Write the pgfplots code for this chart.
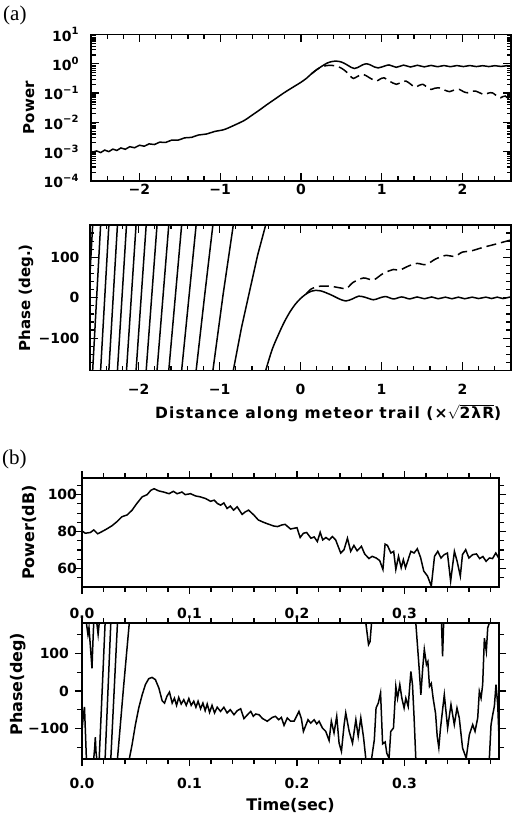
\documentclass[border=0pt]{standalone}
\usepackage{fontspec}
\setmainfont{DejaVu Sans}
\newfontfamily\serif{Liberation Serif}
\usepackage{pgfplots}
\pgfplotsset{compat=1.18}

\newcommand\expo[1]{10\raisebox{0.8ex}{\fontsize{10bp}{10bp}\selectfont #1}}

\pgfplotsset{
  panel/.style={
    scale only axis, unbounded coords=jump,
    axis line style={line width=1.5bp},
    every tick/.style={black, line width=1.2bp},
    tick label style={font=\fontsize{14bp}{16bp}\selectfont\bfseries},
    label style={font=\fontsize{15bp}{18bp}\selectfont\bfseries},
  },
  curve/.style={black, line width=1.5bp, mark=none},
  dashcurve/.style={curve, dash pattern=on 10bp off 5bp},
  pa/.style={panel, tick align=inside, major tick length=8bp, minor tick length=4.5bp,
    xmin=-2.6, xmax=2.6, xtick={-2,-1,0,1,2}, xticklabels={−2,−1,0,1,2},
    minor xtick={-2.4,-2.2,-1.8,-1.6,-1.4,-1.2,-0.8,-0.6,-0.4,-0.2,0.2,0.4,0.6,0.8,1.2,1.4,1.6,1.8,2.2,2.4}},
  pb/.style={panel, tick align=outside, major tick length=7bp, minor tick length=5bp,
    xmin=0, xmax=0.388, xtick={0,0.1,0.2,0.3}, xticklabels={0.0,0.1,0.2,0.3},
    minor xtick={0.02,0.04,0.06,0.08,0.12,0.14,0.16,0.18,0.22,0.24,0.26,0.28,0.32,0.34,0.36,0.38},
    label style={font=\fontsize{16bp}{18bp}\selectfont\bfseries}},
}

\begin{document}
\begin{tikzpicture}
\path[use as bounding box] (0,0) rectangle (526bp,817bp);

\node[anchor=west, inner sep=0, font=\serif\fontsize{21bp}{23bp}\selectfont] at (3bp,802bp) {(a)};
\node[anchor=west, inner sep=0, font=\serif\fontsize{21bp}{23bp}\selectfont] at (2bp,358bp) {(b)};

% (a) power, log10 scale
\begin{axis}[pa, at={(91bp,636bp)}, anchor=south west, width=420bp, height=146.5bp,
  ymin=-4, ymax=1, ytick={-4,-3,-2,-1,0,1},
  yticklabels={\expo{−4},\expo{−3},\expo{−2},\expo{−1},\expo{0},\expo{1}},
  minor ytick={-3.699,-3.523,-3.398,-3.301,-3.222,-3.155,-3.097,-3.046,
    -2.699,-2.523,-2.398,-2.301,-2.222,-2.155,-2.097,-2.046,
    -1.699,-1.523,-1.398,-1.301,-1.222,-1.155,-1.097,-1.046,
    -0.699,-0.523,-0.398,-0.301,-0.222,-0.155,-0.097,-0.046,
    0.301,0.477,0.602,0.699,0.778,0.845,0.903,0.954},
  yticklabel style={xshift=-9bp},
  ylabel={Power}, ylabel style={at={(axis description cs:-0.148,0.5)}, anchor=center}]
\addplot[curve, smooth] coordinates {
(-2.6,-3.05) (-2.53,-2.975) (-2.48,-3.03) (-2.43,-2.945) (-2.38,-2.998) (-2.33,-2.912)
(-2.28,-2.958) (-2.23,-2.873) (-2.175,-2.917) (-2.12,-2.83) (-2.06,-2.865) (-2.0,-2.78)
(-1.94,-2.813) (-1.88,-2.733) (-1.815,-2.756) (-1.75,-2.675) (-1.675,-2.684) (-1.6,-2.603)
(-1.52,-2.605) (-1.44,-2.527) (-1.355,-2.511) (-1.27,-2.431) (-1.17,-2.397) (-1.07,-2.31)
(-0.955,-2.248) (-0.84,-2.115) (-0.7,-1.93) (-0.62,-1.78) (-0.52,-1.59) (-0.42,-1.39)
(-0.32,-1.2) (-0.21,-0.99) (-0.1,-0.8) (0,-0.63) (0.07,-0.49) (0.13,-0.34) (0.2,-0.19)
(0.26,-0.08) (0.32,0.02) (0.38,0.075) (0.44,0.09) (0.5,0.06) (0.56,-0.02) (0.62,-0.12)
(0.66,-0.16) (0.7,-0.13) (0.76,-0.04) (0.81,0.0) (0.86,-0.04) (0.91,-0.11) (0.955,-0.14)
(1.0,-0.11) (1.09,-0.04) (1.18,-0.12) (1.27,-0.045) (1.355,-0.11) (1.44,-0.05) (1.525,-0.105)
(1.61,-0.055) (1.69,-0.1) (1.77,-0.06) (1.85,-0.1) (1.93,-0.06) (2.01,-0.095) (2.09,-0.06)
(2.17,-0.095) (2.25,-0.065) (2.325,-0.095) (2.4,-0.065) (2.475,-0.09) (2.55,-0.065) (2.6,-0.08)};
\addplot[dashcurve, smooth] coordinates {
(0.13,-0.34) (0.2,-0.19) (0.26,-0.1) (0.32,-0.06) (0.38,-0.055) (0.44,-0.08) (0.5,-0.15)
(0.56,-0.27) (0.61,-0.42) (0.65,-0.5) (0.7,-0.43) (0.77,-0.36) (0.85,-0.48) (0.93,-0.59)
(0.98,-0.52) (1.03,-0.48) (1.1,-0.6) (1.18,-0.7) (1.24,-0.63) (1.3,-0.59) (1.36,-0.7)
(1.41,-0.8) (1.46,-0.74) (1.51,-0.7) (1.56,-0.8) (1.61,-0.875) (1.66,-0.83) (1.71,-0.82)
(1.78,-0.9) (1.84,-0.95) (1.9,-0.89) (1.96,-0.875) (2.01,-0.95) (2.06,-0.99) (2.11,-0.94)
(2.16,-0.93) (2.22,-1.0) (2.27,-1.05) (2.32,-1.0) (2.37,-0.99) (2.42,-1.09) (2.47,-1.16)
(2.5,-1.12) (2.53,-1.1) (2.57,-1.2) (2.6,-1.25)};
\end{axis}

% (a) phase
\begin{axis}[pa, at={(90bp,446.5bp)}, anchor=south west, width=421bp, height=145.5bp,
  ymin=-180, ymax=180, ytick={-100,0,100}, yticklabels={−100,0,100},
  minor ytick={-160,-140,-120,-80,-60,-40,-20,20,40,60,80,120,140,160},
  yticklabel style={xshift=-7bp}, xticklabel style={yshift=-10bp},
  ylabel={Phase (deg.)}, ylabel style={at={(axis description cs:-0.152,0.5)}, anchor=center},
  xlabel={Distance along meteor trail (×$\sqrt{\hbox{2λR}}$)},
  xlabel style={at={(axis description cs:0.566,-0.292)}, anchor=center, inner sep=0.5bp,
    font=\fontsize{15.5bp}{18bp}\selectfont\bfseries\addfontfeatures{LetterSpace=7}}]
\addplot[curve] coordinates {
(-2.6,60) (-2.567,180) (-2.567,nan)
(-2.567,-180) (-2.469,180) (-2.469,nan)
(-2.469,-180) (-2.367,180) (-2.367,nan)
(-2.367,-180) (-2.261,180) (-2.261,nan)
(-2.261,-180) (-2.149,180) (-2.149,nan)
(-2.149,-180) (-2.031,180) (-2.031,nan)
(-2.031,-180) (-1.906,180) (-1.906,nan)
(-1.906,-180) (-1.772,180) (-1.772,nan)
(-1.772,-180) (-1.627,180) (-1.627,nan)
(-1.627,-180) (-1.468,180) (-1.468,nan)
(-1.468,-180) (-1.289,180) (-1.289,nan)
(-1.289,-180) (-1.19,-5) (-1.082,180) (-1.082,nan)
(-1.082,-180) (-0.956,8) (-0.83,180) (-0.83,nan)
(-0.83,-180) (-0.73,-75) (-0.63,15) (-0.53,105) (-0.43,180)};
\addplot[curve, smooth] coordinates {
(-0.43,-180) (-0.35,-128) (-0.27,-90) (-0.2,-60) (-0.13,-35) (-0.06,-15) (0,-2)
(0.06,8) (0.12,15) (0.18,18) (0.25,17) (0.32,12) (0.4,5) (0.48,-3) (0.56,-8) (0.64,-3)
(0.72,4) (0.8,1) (0.9,-5) (0.97,-1) (1.05,3) (1.15,-3) (1.25,2) (1.35,-3) (1.44,2)
(1.53,-2.5) (1.62,2) (1.7,-2.5) (1.79,1.5) (1.87,-2.5) (1.95,1.5) (2.03,-2.5) (2.12,1.5)
(2.2,-2) (2.29,1.5) (2.36,-2) (2.43,1.5) (2.5,-2) (2.58,1.5) (2.6,1)};
\addplot[dashcurve, smooth] coordinates {
(0.07,10) (0.135,22) (0.22,28) (0.34,29) (0.42,27) (0.5,24) (0.57,23) (0.65,38) (0.78,49)
(0.9,44) (1.02,60) (1.15,70) (1.22,68) (1.34,79) (1.44,85) (1.55,82) (1.67,96) (1.8,105)
(1.9,102) (2.0,113) (2.09,115) (2.18,120) (2.26,125) (2.36,130) (2.49,137) (2.6,143)};
\end{axis}

% (b) power
\begin{axis}[pb, at={(82bp,230bp)}, anchor=south west, width=417bp, height=109bp,
  ymin=50, ymax=109, ytick={60,80,100}, yticklabels={60,80,100},
  minor ytick={55,65,70,75,85,90,95,105},
  yticklabel style={xshift=5.5bp}, xticklabel style={yshift=-11bp},
  ylabel={Power(dB)}, ylabel style={at={(axis description cs:-0.126,0.5)}, anchor=center}]
\addplot[curve] coordinates {
(0.000,80.4) (0.003,79.1) (0.0078,79.5) (0.011,80.9) (0.0146,78.8) (0.0186,80.0) (0.023,81.4)
(0.028,83.2) (0.0326,85.4) (0.037,88.0) (0.042,89.0) (0.0466,91.6) (0.051,95.2) (0.056,98.8)
(0.0606,100.0) (0.064,102.3) (0.067,103.2) (0.0715,102.0) (0.076,101.4) (0.081,100.5)
(0.085,101.8) (0.0885,100.5) (0.093,101.4) (0.096,100.0) (0.101,100.5) (0.1056,99.3)
(0.110,98.8) (0.1149,97.9) (0.1196,96.4) (0.123,97.0) (0.126,95.2) (0.129,94.3) (0.132,95.5)
(0.135,92.5) (0.138,93.8) (0.141,91.6) (0.1444,93.4) (0.149,89.3) (0.152,90.7) (0.155,91.6)
(0.160,88.9) (0.164,86.3) (0.169,85.0) (0.174,83.9) (0.1786,83.0) (0.182,82.7) (0.186,83.6)
(0.189,83.9) (0.194,81.4) (0.2,82.1) (0.203,76.8) (0.206,79.1) (0.209,79.5) (0.213,76.4)
(0.216,77.1) (0.219,74.6) (0.2216,79.6) (0.224,75.5) (0.227,76.8) (0.230,75.5) (0.233,77.3)
(0.236,75.5) (0.2407,68.4) (0.2438,70.2) (0.247,76.4) (0.250,69.3) (0.253,72.5) (0.256,69.6)
(0.260,72.0) (0.263,67.9) (0.267,65.4) (0.270,66.6) (0.2737,65.7) (0.277,64.3) (0.280,59.5)
(0.282,73.2) (0.2842,72.5) (0.2874,68.4) (0.290,69.3) (0.292,59.5) (0.2945,66.6) (0.297,60.4)
(0.299,64.8) (0.301,60.4) (0.306,69.3) (0.309,68.4) (0.312,70.7) (0.315,66.0) (0.318,58.6)
(0.3215,55.9) (0.325,50.5) (0.328,66.6) (0.331,69.3) (0.334,65.7) (0.337,67.5) (0.340,68.4)
(0.343,53.2) (0.3465,69.3) (0.349,64.0) (0.352,55.9) (0.354,67.5) (0.357,70.2) (0.360,65.7)
(0.3635,67.5) (0.367,67.9) (0.370,65.4) (0.373,66.5) (0.376,63.9) (0.379,65.7) (0.382,65.4)
(0.385,68.4) (0.388,65.4)};
\end{axis}

% (b) phase
\begin{axis}[pb, at={(82bp,58bp)}, anchor=south west, width=417bp, height=136bp,
  ymin=-180, ymax=180, ytick={-100,0,100}, yticklabels={−100,0,100},
  minor ytick={-150,-50,50,150},
  yticklabel style={xshift=-2.5bp}, xticklabel style={yshift=-9bp},
  ylabel={Phase(deg)}, ylabel style={at={(axis description cs:-0.1535,0.55)}, anchor=center},
  xlabel={Time(sec)}, xlabel style={at={(axis description cs:0.5,-0.345)}, anchor=center}]
\addplot[curve] coordinates {
(0,-105) (0.001,-72) (0.0023,-42) (0.0032,-110) (0.0041,-180) (0.0041,nan)
(0.0041,180) (0.0055,150) (0.0065,168) (0.0078,118) (0.0093,60) (0.0101,125) (0.0109,180) (0.0109,nan)
(0.0109,-180) (0.0118,-150) (0.0124,-122) (0.013,-160) (0.0138,-180) (0.0138,nan)
(0.0138,180) (0.0150,150) (0.016,180) (0.016,nan)
(0.016,-180) (0.0215,180) (0.0215,nan)
(0.0215,-180) (0.0268,180) (0.0268,nan)
(0.0268,-180) (0.033,180) (0.033,nan)
(0.033,-180) (0.0385,5) (0.044,180) (0.044,nan)
(0.044,-180) (0.0466,-142) (0.0497,-89) (0.0528,-45) (0.056,-10) (0.059,17) (0.0621,32.6)
(0.0652,36) (0.0683,30) (0.0715,8) (0.0746,-26) (0.0768,-32) (0.079,-14) (0.0814,-3)
(0.0839,-32) (0.086,-19) (0.088,-38) (0.09,-17) (0.0923,-34.5) (0.0947,-23) (0.097,-38)
(0.0994,-20) (0.1016,-38) (0.104,-27) (0.106,-43) (0.108,-27) (0.1103,-47) (0.1125,-32)
(0.1146,-52) (0.1165,-34.5) (0.1187,-56.5) (0.121,-38) (0.1233,-58) (0.1258,-43) (0.1289,-54)
(0.132,-43) (0.135,-58) (0.138,-49.5) (0.1414,-62.7) (0.1445,-52) (0.1476,-47) (0.1507,-73)
(0.154,-62.7) (0.157,-54) (0.1594,-67) (0.1616,-61) (0.1647,-62.7) (0.168,-73) (0.1724,-80)
(0.177,-70) (0.18,-67) (0.183,-76) (0.1855,-70) (0.188,-91) (0.191,-71.5) (0.1941,-80)
(0.1973,-80) (0.2019,-54) (0.2041,-73) (0.206,-107) (0.2082,-91) (0.2103,-76) (0.2128,-85)
(0.216,-76) (0.2184,-87) (0.2206,-80) (0.2237,-98) (0.2268,-107) (0.2299,-131) (0.232,-80)
(0.2345,-111) (0.237,-67) (0.2392,-138) (0.2414,-160) (0.2439,-89) (0.2454,-58) (0.2486,-107)
(0.2517,-138) (0.2548,-76) (0.257,-120) (0.2594,-71) (0.262,-124) (0.2641,-180) (0.2641,nan)
(0.2641,180) (0.2666,123) (0.268,131) (0.2694,180) (0.2694,nan)
(0.2694,-180) (0.272,-129) (0.2736,-45) (0.2757,-32) (0.2778,-5) (0.2797,-140) (0.2821,-135)
(0.2836,-165) (0.2857,-178) (0.2873,-107) (0.2898,-98) (0.292,12) (0.2936,-19) (0.2957,17)
(0.2976,-19) (0.2997,-45) (0.3013,-19) (0.3035,-41) (0.306,52) (0.3075,17) (0.309,-71)
(0.3106,-180) (0.3106,nan)
(0.3106,180) (0.3137,60) (0.3153,-10) (0.317,60) (0.3185,110) (0.3205,70) (0.3218,78)
(0.3233,12) (0.325,20) (0.3267,-19) (0.329,-60) (0.3305,-120) (0.332,-150) (0.3335,-100)
(0.3371,-10) (0.3402,-98) (0.3433,-36) (0.3464,-89) (0.3489,-45) (0.351,-71) (0.3541,-151)
(0.3575,-178) (0.3604,-116) (0.3635,-89) (0.3657,-107) (0.3682,-71) (0.3697,-1) (0.3713,-19)
(0.3728,17) (0.3744,140) (0.3762,105) (0.3775,167) (0.379,180) (0.379,nan)
(0.379,-180) (0.3806,-89) (0.3822,-62) (0.3837,-40) (0.3852,17) (0.3868,-36) (0.388,-124)};
\addplot[curve] coordinates {(0.3345,180) (0.3355,92) (0.3365,180)};
\end{axis}
\end{tikzpicture}
\end{document}
